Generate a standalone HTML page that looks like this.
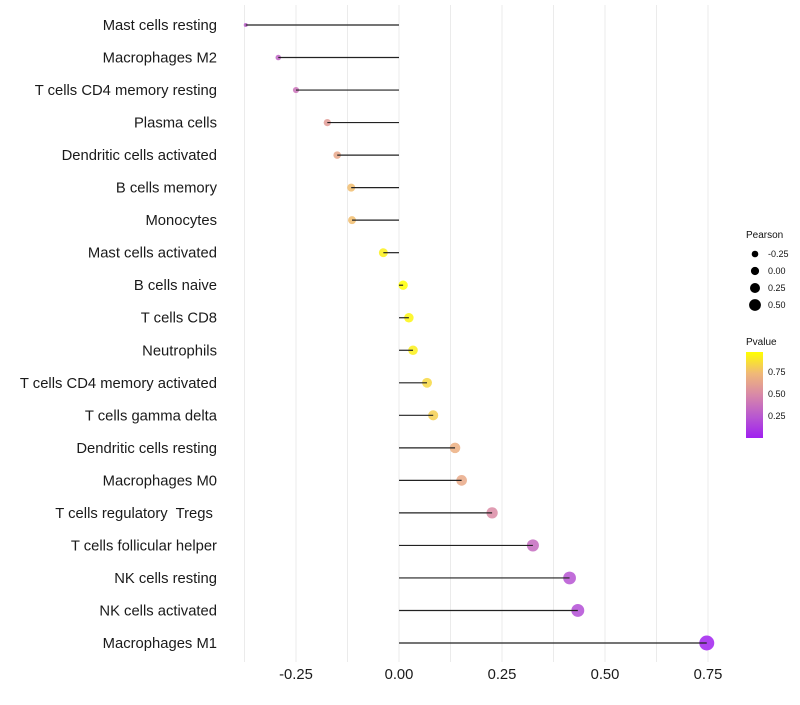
<!DOCTYPE html>
<html><head><meta charset="utf-8"><style>
body{margin:0;background:#fff;font-family:"Liberation Sans",sans-serif;}
svg text{font-family:"Liberation Sans",sans-serif;white-space:pre;}
</style></head><body>
<svg id="chart" width="800" height="700">
<defs><linearGradient id="pg" x1="0" y1="1" x2="0" y2="0">
<stop offset="0" stop-color="#a020f0"/><stop offset="0.25" stop-color="#b858d0"/><stop offset="0.5" stop-color="#d888a8"/><stop offset="0.75" stop-color="#f0b878"/><stop offset="1" stop-color="#ffff00"/></linearGradient></defs>
<g id="grid"></g>
<g id="marks"></g>
<g id="ylabels"></g>
<g id="xlabels"></g>
<g font-size="9" fill="#111">
<text x="746" y="238" font-size="10">Pearson</text>
<circle cx="755" cy="254" r="3.3" fill="#000"/><text x="768" y="257">-0.25</text>
<circle cx="755" cy="271" r="4.1" fill="#000"/><text x="768" y="274">0.00</text>
<circle cx="755" cy="288" r="5" fill="#000"/><text x="768" y="291">0.25</text>
<circle cx="755" cy="305" r="5.9" fill="#000"/><text x="768" y="308">0.50</text>
</g>
<g font-size="9" fill="#111">
<text x="746" y="345" font-size="10">Pvalue</text>
<rect x="746" y="352" width="17" height="86" fill="url(#pg)"/>
<text x="768" y="375">0.75</text><text x="768" y="397">0.50</text><text x="768" y="419">0.25</text>
</g>
</svg>
<script>
const cells=["Mast cells resting","Macrophages M2","T cells CD4 memory resting","Plasma cells","Dendritic cells activated","B cells memory","Monocytes","Mast cells activated","B cells naive","T cells CD8","Neutrophils","T cells CD4 memory activated","T cells gamma delta","Dendritic cells resting","Macrophages M0","T cells regulatory  Tregs ","T cells follicular helper","NK cells resting","NK cells activated","Macrophages M1"];
const pearson=[-0.372,-0.293,-0.250,-0.174,-0.150,-0.116,-0.114,-0.038,0.010,0.024,0.034,0.068,0.083,0.136,0.152,0.226,0.325,0.414,0.434,0.747];
const pvalue=[0.30,0.33,0.40,0.60,0.66,0.76,0.76,0.93,0.98,0.95,0.93,0.85,0.82,0.70,0.67,0.52,0.36,0.25,0.22,0.04];
const xticks=[-0.25,0,0.25,0.5,0.75];
const xtickLabels=["-0.25","0.00","0.25","0.50","0.75"];
const NS="http://www.w3.org/2000/svg";
const X=v=>399+v*412;
const Y=i=>25+i*(643-25)/(cells.length-1);
const R=v=>Math.sqrt(4+Math.max(0,v+0.372)*46.7);
const stops=[[0,[160,32,240]],[0.25,[184,88,208]],[0.5,[216,136,168]],[0.75,[240,184,120]],[1,[255,255,0]]];
function col(p){p=(p-0.03)/(0.98-0.03);p=Math.max(0,Math.min(1,p));for(let k=0;k<stops.length-1;k++){const a=stops[k],b=stops[k+1];if(p<=b[0]){const t=(p-a[0])/(b[0]-a[0]);return "rgb("+a[1].map((c,j)=>Math.round(c+(b[1][j]-c)*t)).join(",")+")";}}return "rgb(255,255,0)";}
function mk(t,a,p){const e=document.createElementNS(NS,t);for(const k in a)e.setAttribute(k,a[k]);p.appendChild(e);return e;}
const grid=document.getElementById('grid'),marks=document.getElementById('marks'),yl=document.getElementById('ylabels'),xl=document.getElementById('xlabels');
for(let v=-0.375;v<=0.76;v+=0.125){const g=mk('line',{x1:X(v),x2:X(v),y1:5,y2:662,stroke:'#ebebeb','stroke-width':1},grid);

}
cells.forEach((c,i)=>{
const y=Y(i);
const pt=mk('circle',{cx:X(pearson[i]),cy:y,r:R(pearson[i]),fill:col(pvalue[i]),'fill-opacity':0.85},marks);


const ln=mk('line',{x1:X(0),x2:X(pearson[i]),y1:y,y2:y,stroke:'#222','stroke-width':1.2},marks);


const t=mk('text',{x:217,y:y+5,'text-anchor':'end','font-size':14.8,fill:'#1a1a1a'},yl);t.textContent=c;


});
xticks.forEach((v,i)=>{const t=mk('text',{x:X(v),y:679,'text-anchor':'middle','font-size':14.8,fill:'#1a1a1a'},xl);t.textContent=xtickLabels[i];

});
</script>
</body></html>
